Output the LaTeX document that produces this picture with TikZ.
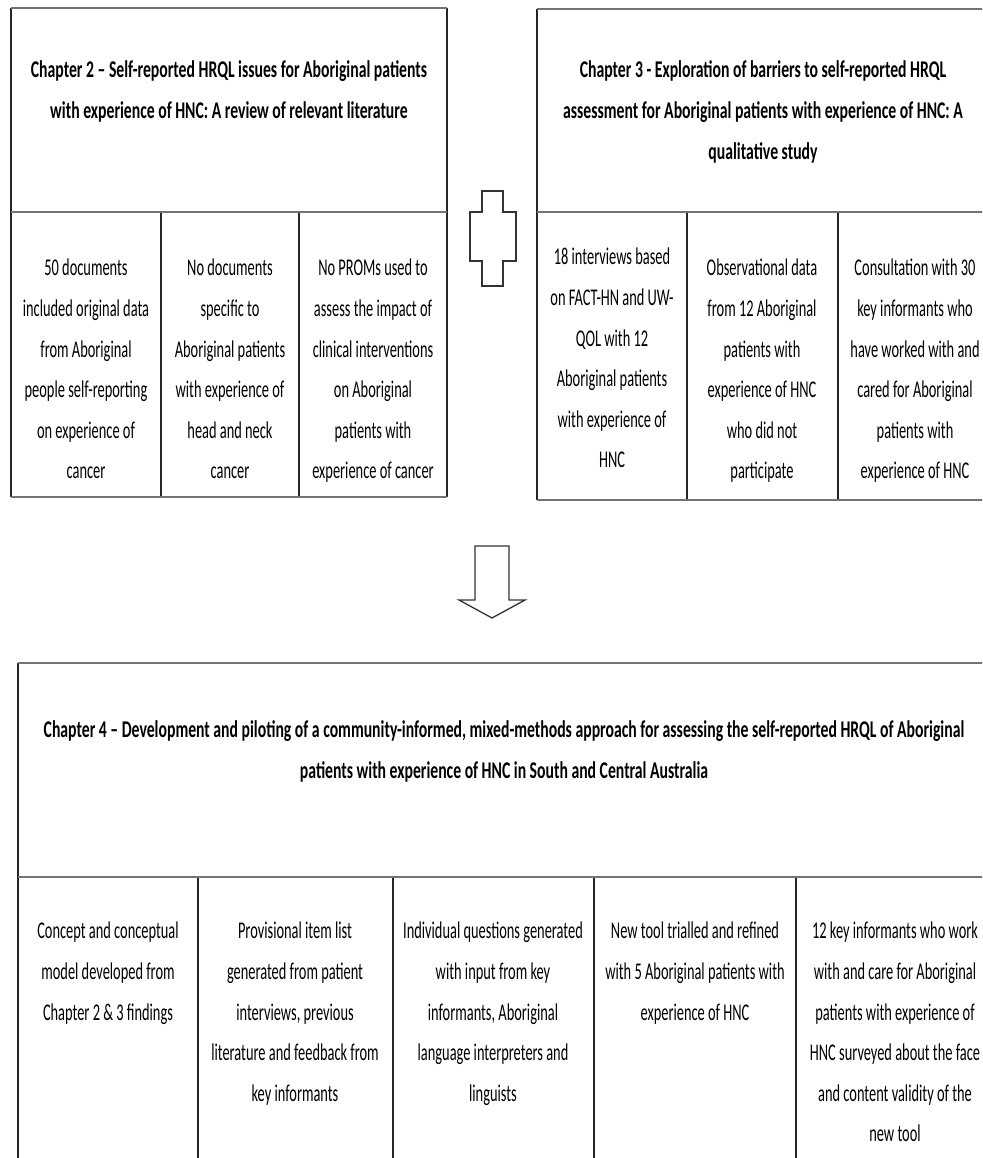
\documentclass[tikz,border=0pt]{standalone}
\usepackage{fontspec}
\setmainfont[FakeStretch=0.60]{Carlito}
\newfontfamily\headfont[FakeStretch=0.655]{Carlito}
\begin{document}
\begin{tikzpicture}[x=1pt,y=-1pt,
  hrule/.style={draw=black!55, line width=2.2pt},
  vrule/.style={draw=black!85, line width=1.3pt},
  outline/.style={draw=black!80, line width=1.3pt, line join=miter},
  head/.style={font=\headfont\bfseries\fontsize{24}{41}\selectfont, align=center, anchor=north, inner sep=0pt},
  cell/.style={font=\fontsize{24}{40.6}\selectfont, align=center, anchor=north, inner sep=0pt}]
\useasboundingbox (0,0) rectangle (982,1158);
\clip (0,0) rectangle (982,1158);

% ---- Chapter 2 table ----
\draw[vrule] (11,8) -- (11,497) (447,8) -- (447,497)
             (161,212) -- (161,497) (299,212) -- (299,497);
\draw[hrule] (11,8) -- (447,8) (11,212) -- (447,212) (11,497) -- (447,497);
\node[head] (c2head) at (229,60) {Chapter 2 – Self-reported HRQL issues for Aboriginal patients\\with experience of HNC: A review of relevant literature};
\node[cell] (c2a) at (86,259) {50 documents\\included original data\\from Aboriginal\\people self-reporting\\on experience of\\cancer};
\node[cell] (c2b) at (230,259) {No documents\\specific to\\Aboriginal patients\\with experience of\\head and neck\\cancer};
\node[cell] (c2c) at (373,259) {No PROMs used to\\assess the impact of\\clinical interventions\\on Aboriginal\\patients with\\experience of cancer};

% ---- plus sign ----
\draw[outline] (482,191) -- (503,191) -- (503,212) -- (516,212) -- (516,261) -- (503,261)
  -- (503,286) -- (482,286) -- (482,261) -- (470,261) -- (470,212) -- (482,212) -- cycle;

% ---- Chapter 3 table ----
\draw[vrule] (537,9) -- (537,500) (990,9) -- (990,500)
             (687,212) -- (687,500) (838,212) -- (838,500);
\draw[hrule] (537,9) -- (990,9) (537,212) -- (990,212) (537,500) -- (990,500);
\node[head] (c3head) at (763,60) {Chapter 3 - Exploration of barriers to self-reported HRQL\\assessment for Aboriginal patients with experience of HNC: A\\qualitative study};
\node[cell] (c3a) at (612,248) {18 interviews based\\on FACT-HN and UW-\\QOL with 12\\Aboriginal patients\\with experience of\\HNC};
\node[cell] (c3b) at (762,259) {Observational data\\from 12 Aboriginal\\patients with\\experience of HNC\\who did not\\participate};
\node[cell] (c3c) at (915,259) {Consultation with 30\\key informants who\\have worked with and\\cared for Aboriginal\\patients with\\experience of HNC};

% ---- down arrow ----
\draw[outline] (475,546) -- (509,546) -- (509,600) -- (525,600) -- (492,618)
  -- (459,600) -- (475,600) -- cycle;

% ---- Chapter 4 table ----
\draw[vrule] (18,663) -- (18,1170) (990,663) -- (990,1170)
             (198,877) -- (198,1170) (393,877) -- (393,1170)
             (594,877) -- (594,1170) (796,877) -- (796,1170);
\draw[hrule] (18,663) -- (990,663) (18,877) -- (990,877);
\node[head] (c4head) at (504,720) {Chapter 4 – Development and piloting of a community-informed, mixed-methods approach for assessing the self-reported HRQL of Aboriginal\\patients with experience of HNC in South and Central Australia};
\node[cell] (c4a) at (108,922) {Concept and conceptual\\model developed from\\Chapter 2 \& 3 findings};
\node[cell] (c4b) at (295,922) {Provisional item list\\generated from patient\\interviews, previous\\literature and feedback from\\key informants};
\node[cell] (c4c) at (493,922) {Individual questions generated\\with input from key\\informants, Aboriginal\\language interpreters and\\linguists};
\node[cell] (c4d) at (695,922) {New tool trialled and refined\\with 5 Aboriginal patients with\\experience of HNC};
\node[cell] (c4e) at (895,922) {12 key informants who work\\with and care for Aboriginal\\patients with experience of\\HNC surveyed about the face\\and content validity of the\\new tool};
\end{tikzpicture}
\end{document}
